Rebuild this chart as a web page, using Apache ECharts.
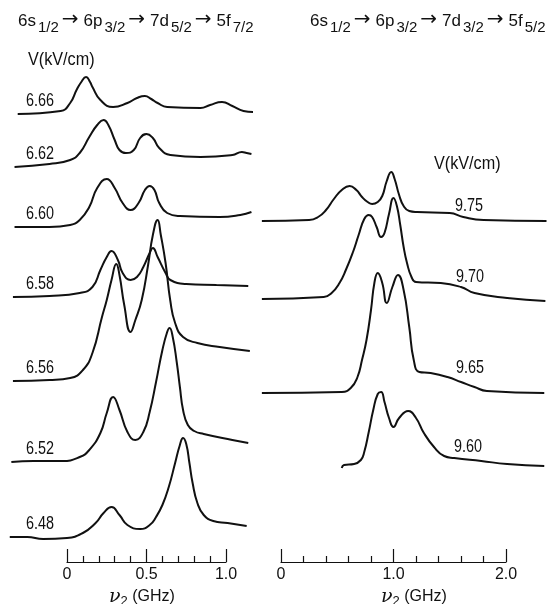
<!DOCTYPE html>
<html><head><meta charset="utf-8">
<script src="https://cdn.jsdelivr.net/npm/echarts@6/dist/echarts.min.js"></script>
<style>html,body{margin:0;padding:0;background:#fff}#c{width:548px;height:604px}</style>
</head><body><div id="c"></div>
<script>
// ---- Left panel: 6s1/2 -> 6p3/2 -> 7d5/2 -> 5f7/2 ; x = nu2 (GHz), y = signal (arb. units) ----
const leftLabels  = ['6.66','6.62','6.60','6.58','6.56','6.52','6.48'];
const leftOffsets = [446, 393, 333, 263, 179, 98, 23];
const trace666 = [[-0.31,0],[-0.04,3],[0.02,11],[0.06,24],[0.09,32],[0.12,37],[0.145,32],[0.16,27],[0.21,14],[0.29,7],[0.38,11],[0.44,16],[0.49,18],[0.53,15],[0.57,11],[0.63,7],[0.84,6],[0.90,9],[0.975,12],[1.04,8],[1.11,3],[1.17,2]];
const trace662 = [[-0.33,0],[-0.11,3],[0.02,7],[0.08,14],[0.14,30],[0.19,42],[0.23,47],[0.26,42],[0.30,27],[0.33,17],[0.37,14],[0.42,17],[0.46,29],[0.50,33],[0.54,29],[0.58,19],[0.65,12],[0.84,10],[1.04,12],[1.10,15],[1.13,14],[1.16,13]];
const trace660 = [[-0.33,0],[-0.11,0],[0.02,2],[0.08,7],[0.14,20],[0.19,39],[0.25,48],[0.30,39],[0.35,24],[0.40,17],[0.45,24],[0.49,37],[0.52,41],[0.55,37],[0.58,24],[0.63,14],[0.71,11],[0.96,10],[1.09,12],[1.16,15]];
const trace658 = [[-0.34,0],[-0.11,1],[0.08,4],[0.16,10],[0.21,27],[0.25,40],[0.28,46],[0.32,37],[0.35,24],[0.40,17],[0.44,20],[0.48,30],[0.52,44],[0.54,49],[0.57,40],[0.62,24],[0.65,17],[0.75,13],[0.94,12],[1.14,11]];
const trace656 = [[-0.34,0],[-0.11,1],[0.02,3],[0.10,11],[0.16,28],[0.22,64],[0.25,81],[0.28,101],[0.31,117],[0.33,106],[0.36,76],[0.40,49],[0.43,61],[0.47,81],[0.51,116],[0.54,146],[0.57,161],[0.59,146],[0.62,118],[0.65,80],[0.68,58],[0.73,44],[0.82,38],[0.96,34],[1.15,30]];
const trace652 = [[-0.35,0],[-0.21,1],[-0.03,1],[0.08,5],[0.14,12],[0.21,29],[0.25,49],[0.29,65],[0.33,52],[0.38,30],[0.43,22],[0.48,30],[0.52,50],[0.56,80],[0.60,112],[0.63,130],[0.645,134],[0.665,125],[0.69,100],[0.71,75],[0.73,52],[0.76,37],[0.80,31],[0.86,28],[1.04,22],[1.14,19]];
const trace648 = [[-0.36,0],[-0.25,0],[-0.15,-2],[0.00,-1],[0.10,4],[0.18,14],[0.23,24],[0.28,30],[0.33,22],[0.38,12],[0.46,8],[0.52,12],[0.56,20],[0.60,32],[0.64,50],[0.68,74],[0.71,92],[0.73,99],[0.75,93],[0.77,74],[0.79,54],[0.82,34],[0.86,22],[0.92,16],[1.01,14],[1.13,11]];
const leftTraces = [trace666, trace662, trace660, trace658, trace656, trace652, trace648];
const leftTickLabels = ['0','0.5','1.0'];

// ---- Right panel: 6s1/2 -> 6p3/2 -> 7d3/2 -> 5f5/2 ----
const rightLabels  = ['9.75','9.70','9.65','9.60'];
const rightOffsets = [339, 261, 167, 92];
const trace975 = [[-0.17,0],[0.25,1],[0.33,4],[0.40,11],[0.47,22],[0.54,31],[0.61,35],[0.67,31],[0.72,24],[0.77,19],[0.81,17],[0.86,19],[0.90,25],[0.94,40],[0.98,49],[1.01,42],[1.05,26],[1.09,15],[1.14,10],[1.21,9],[1.50,8],[1.62,4],[1.80,1],[2.36,0]];
const trace970 = [[-0.17,0],[0.38,2],[0.45,6],[0.52,16],[0.58,30],[0.64,47],[0.69,64],[0.74,80],[0.78,84],[0.81,82],[0.85,72],[0.89,62],[0.92,66],[0.96,85],[1.00,101],[1.03,93],[1.06,74],[1.09,52],[1.12,36],[1.16,22],[1.20,17],[1.42,16],[1.60,12],[1.72,6],[2.01,1],[2.35,-2]];
const trace965 = [[-0.17,0],[0.54,1],[0.62,5],[0.68,16],[0.72,33],[0.76,53],[0.80,83],[0.83,110],[0.86,120],[0.90,110],[0.94,90],[0.99,106],[1.04,118],[1.09,103],[1.14,66],[1.18,33],[1.23,21],[1.33,20],[1.48,16],[1.60,11],[1.72,6],[1.83,2],[2.34,0]];
const trace960 = [[0.54,0],[0.56,3],[0.65,4],[0.71,8],[0.74,16],[0.78,36],[0.82,58],[0.86,74],[0.89,76],[0.92,66],[0.96,50],[1.00,41],[1.05,50],[1.13,57],[1.20,50],[1.27,35],[1.36,21],[1.45,12],[1.54,10],[1.78,7],[2.01,4],[2.34,2]];
const rightTraces = [trace975, trace970, trace965, trace960];
const rightTickLabels = ['0','1.0','2.0'];

// ---- layout (pixels) ----
const FONT = "'Liberation Sans',Arial,sans-serif";
const L0 = 67, LS = 159, LMIN = -0.4, LMAX = 1.2;      // left axis origin px, px per GHz
const R0 = 281, RS = 112.5, RMIN = -0.2, RMAX = 2.4;
const PLOT_H = 560, AXIS_Y = 562;
const leftLabelPos  = [[26,101],[26,154],[26,214],[26,284],[26,368],[26,449],[26,524]];
const rightLabelPos = [[455,206],[456,277],[456,368],[454,447]];

const chart = echarts.init(document.getElementById('c'));

const header = (a,b) => `{m|6s}{s|1/2}{a|→}{m|6p}{s|3/2}{a|→}{m|7d}{s|${a}}{a|→}{m|5f}{s|${b}}`;
const headRich = {
  m: {fontFamily: FONT, fontWeight: 'normal', fontSize: 17, color: '#111', lineHeight: 28, verticalAlign: 'middle', padding:[0,2,0,2]},
  s: {fontFamily: FONT, fontWeight: 'normal', fontSize: 15, color: '#111', lineHeight: 10, verticalAlign: 'bottom'},
  a: {fontFamily: "'DejaVu Sans'", fontWeight: 'normal', fontSize: 20, color: '#111', lineHeight: 28, verticalAlign: 'middle', padding:[0,3,3,3]}
};
const nameRich = {
  n: {fontFamily: "'DejaVu Serif','Liberation Serif',serif", fontStyle: 'italic', fontSize: 19, color: '#111', lineHeight: 22, verticalAlign: 'middle'},
  s: {fontFamily: FONT, fontSize: 13, color: '#111', lineHeight: 8, verticalAlign: 'bottom'},
  g: {fontFamily: FONT, fontSize: 16, color: '#111', lineHeight: 22, verticalAlign: 'middle'}
};

function axisGrid(x0, scale, maxV) {
  return {left: x0, width: maxV * scale, top: AXIS_Y - 40, height: 40, outerBoundsMode: 'none', containLabel: false};
}
function valueAxis(gridIndex, labels, interval, maxV, namePad) {
  return {
    type: 'value', gridIndex, min: 0, max: maxV, interval,
    axisLine: {show: true, lineStyle: {color: '#111', width: 1.2}},
    axisTick: {show: true, inside: true, length: 13, lineStyle: {color: '#111', width: 1.2}},
    minorTick: {show: true, splitNumber: 5, length: 6, lineStyle: {color: '#111', width: 1.2}},
    splitLine: {show: false},
    axisLabel: {show: true, margin: 5, color: '#111', fontFamily: FONT, fontSize: 16,
      formatter: (v, i) => labels[i]},
    name: '{n|ν}{s|2}{g| (GHz)}', nameLocation: 'middle', nameGap: 24,
    nameTextStyle: {rich: nameRich, padding: namePad}
  };
}
function hiddenX(gridIndex, mn, mx) {
  return {type: 'value', gridIndex, min: mn, max: mx, show: false, splitLine: {show: false}};
}
function hiddenY(gridIndex, mx) {
  return {type: 'value', gridIndex, min: 0, max: mx, show: false, splitLine: {show: false}};
}

const series = [];
leftTraces.forEach((t, i) => series.push({
  type: 'line', xAxisIndex: 0, yAxisIndex: 0, showSymbol: false, smooth: 0.5, silent: true,
  lineStyle: {color: '#111', width: 2}, data: t.map(p => [p[0], leftOffsets[i] + p[1]])
}));
rightTraces.forEach((t, i) => series.push({
  type: 'line', xAxisIndex: 1, yAxisIndex: 1, showSymbol: false, smooth: 0.5, silent: true,
  lineStyle: {color: '#111', width: 2}, data: t.map(p => [p[0], rightOffsets[i] + p[1]])
}));
series.push({type: 'line', xAxisIndex: 2, yAxisIndex: 2, data: []});
series.push({type: 'line', xAxisIndex: 3, yAxisIndex: 3, data: []});

const graphics = [];
const lblStyle = (s) => ({text: s, font: `18px ${FONT}`, fill: '#111', verticalAlign: 'middle'});
leftLabels.forEach((s, i) => graphics.push({type: 'text', x: leftLabelPos[i][0], y: leftLabelPos[i][1], scaleX: 0.8, style: lblStyle(s)}));
rightLabels.forEach((s, i) => graphics.push({type: 'text', x: rightLabelPos[i][0], y: rightLabelPos[i][1], scaleX: 0.8, style: lblStyle(s)}));
graphics.push({type: 'text', x: 28, y: 60, scaleX: 0.9, style: lblStyle('V(kV/cm)')});
graphics.push({type: 'text', x: 434, y: 164, scaleX: 0.9, style: lblStyle('V(kV/cm)')});

chart.setOption({
  animation: false,
  backgroundColor: '#fff',
  title: [
    {text: header('5/2','7/2'), left: 16, top: 7, padding: 0, textStyle: {fontWeight: 'normal', rich: headRich}},
    {text: header('3/2','5/2'), left: 308, top: 7, padding: 0, textStyle: {fontWeight: 'normal', rich: headRich}}
  ],
  grid: [
    {left: L0 + LMIN * LS, width: (LMAX - LMIN) * LS, top: 0, height: PLOT_H, outerBoundsMode: 'none'},
    {left: R0 + RMIN * RS, width: (RMAX - RMIN) * RS, top: 0, height: PLOT_H, outerBoundsMode: 'none'},
    axisGrid(L0, LS, 1.0),
    axisGrid(R0, RS, 2.0)
  ],
  xAxis: [
    hiddenX(0, LMIN, LMAX), hiddenX(1, RMIN, RMAX),
    valueAxis(2, leftTickLabels, 0.5, 1.0, [0, 9, 0, 0]),
    valueAxis(3, rightTickLabels, 1.0, 2.0, [0, 0, 0, 41])
  ],
  yAxis: [hiddenY(0, PLOT_H), hiddenY(1, PLOT_H), hiddenY(2, 1), hiddenY(3, 1)],
  series,
  graphic: graphics
});
</script></body></html>
